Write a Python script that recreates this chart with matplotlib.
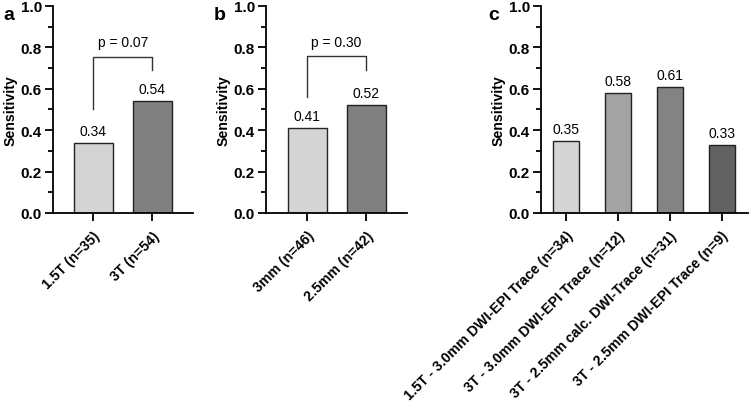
import matplotlib.pyplot as plt
import numpy as np

plt.rcParams['font.family'] = ['Liberation Sans', 'DejaVu Sans']

# panel a: field strength
labels_a = ['1.5T (n=35)', '3T (n=54)']
values_a = [0.34, 0.54]
colors_a = ['#d4d4d4', '#808080']
p_a = 'p = 0.07'

# panel b: slice thickness
labels_b = ['3mm (n=46)', '2.5mm (n=42)']
values_b = [0.41, 0.52]
colors_b = ['#d4d4d4', '#808080']
p_b = 'p = 0.30'

# panel c: sequences
labels_c = ['1.5T - 3.0mm DWI-EPI Trace (n=34)',
            '3T - 3.0mm DWI-EPI Trace (n=12)',
            '3T - 2.5mm calc. DWI-Trace (n=31)',
            '3T - 2.5mm DWI-EPI Trace (n=9)']
values_c = [0.35, 0.58, 0.61, 0.33]
colors_c = ['#d4d4d4', '#a3a3a3', '#838383', '#626262']

fig = plt.figure(figsize=(7.49, 4.02), dpi=100)
ax_a = fig.add_axes([0.0708, 0.4677, 0.187, 0.515])
ax_b = fig.add_axes([0.3551, 0.4677, 0.188, 0.515])
ax_c = fig.add_axes([0.7223, 0.4677, 0.2764, 0.515])


def style_axis(ax, labels, xlim):
    ax.set_ylim(0, 1.0)
    ax.set_xlim(*xlim)
    ax.spines['top'].set_visible(False)
    ax.spines['right'].set_visible(False)
    for s in ['left', 'bottom']:
        ax.spines[s].set_linewidth(1.3)
    ax.set_yticks(np.arange(0, 1.01, 0.2))
    ax.set_yticklabels([f'{v:.1f}' for v in np.arange(0, 1.01, 0.2)],
                       fontsize=11, fontweight='bold')
    ax.set_yticks(np.arange(0.1, 1.0, 0.2), minor=True)
    ax.tick_params(axis='y', which='major', length=6, width=1.3, pad=2)
    ax.tick_params(axis='y', which='minor', length=3.5, width=1.3)
    ax.set_xticks(range(len(labels)))
    ax.set_xticklabels(labels, rotation=45, ha='right', rotation_mode='anchor',
                       fontsize=10.2, fontweight='bold')
    ax.tick_params(axis='x', length=6, width=1.3, pad=5)
    ax.set_ylabel('Sensitivity', fontsize=10.2, fontweight='bold', labelpad=2)


def draw_bars(ax, values, colors, width):
    x = np.arange(len(values))
    ax.bar(x, values, width=width, color=colors, edgecolor='#222222',
           linewidth=1.0, zorder=2)
    for xi, v in zip(x, values):
        ax.annotate(f'{v:.2f}', (xi, v), xytext=(0, 3.5), textcoords='offset points',
                    ha='center', va='bottom', fontsize=10)


def draw_bracket(ax, y_top, y_left, y_right, text):
    ax.plot([0, 0, 1, 1], [y_left, y_top, y_top, y_right],
            color='#333333', linewidth=1.0, clip_on=False)
    ax.text(0.5, y_top + 0.035, text, ha='center', va='bottom', fontsize=10)


draw_bars(ax_a, values_a, colors_a, 0.66)
style_axis(ax_a, labels_a, (-0.68, 1.69))
draw_bracket(ax_a, 0.755, 0.50, 0.69, p_a)

draw_bars(ax_b, values_b, colors_b, 0.66)
style_axis(ax_b, labels_b, (-0.70, 1.69))
draw_bracket(ax_b, 0.757, 0.56, 0.69, p_b)

draw_bars(ax_c, values_c, colors_c, 0.5)
style_axis(ax_c, labels_c, (-0.48, 3.51))

for ax, letter, xpos in [(ax_a, 'a', 0.004), (ax_b, 'b', 0.285), (ax_c, 'c', 0.652)]:
    fig.text(xpos, 0.983, letter, fontsize=14, fontweight='bold', va='top', ha='left')

fig.savefig('out.png', dpi=100)
